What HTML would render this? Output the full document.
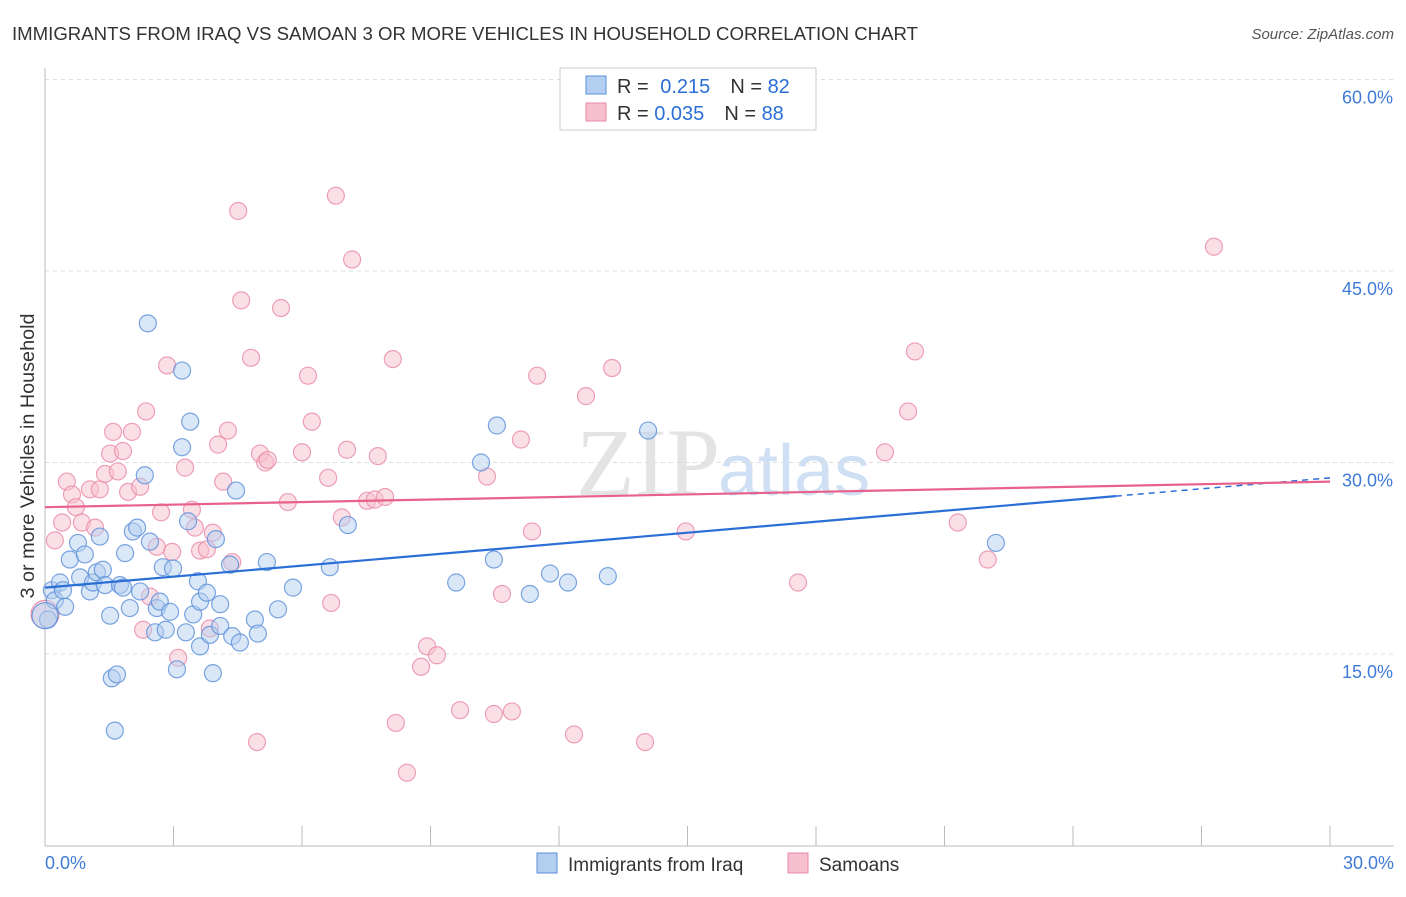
<!DOCTYPE html>
<html><head><meta charset="utf-8"><style>
body{margin:0;background:#fff;font-family:"Liberation Sans",sans-serif}
</style></head><body>
<svg id="chart" width="1406" height="892" xmlns="http://www.w3.org/2000/svg">
<text x="12" y="40" font-size="18" fill="#333" textLength="906" lengthAdjust="spacingAndGlyphs">IMMIGRANTS FROM IRAQ VS SAMOAN 3 OR MORE VEHICLES IN HOUSEHOLD CORRELATION CHART</text>
<text x="1394" y="39" font-size="15" fill="#555" font-style="italic" text-anchor="end">Source: ZipAtlas.com</text>
<text x="-456" y="34" font-size="19" fill="#333" transform="rotate(-90)" text-anchor="middle" textLength="285" lengthAdjust="spacingAndGlyphs">3 or more Vehicles in Household</text>
<text x="720" y="495" font-size="96" fill="#e4e4e4" font-family="Liberation Serif,serif" text-anchor="end">ZIP</text>
<text x="718" y="495" font-size="72" fill="#cfe0f4">atlas</text>
<g id="grid"></g><g id="axes"></g><g id="pink"></g><g id="blue"></g><g id="trends"></g>
<g>
<rect x="560" y="68" width="256" height="62" fill="#fff" stroke="#ccc"/>
<rect x="586" y="76" width="20" height="18" fill="#b3cff0" stroke="#5b8fd9"/>
<rect x="586" y="103" width="20" height="18" fill="#f7bfd0" stroke="#e889a6"/>
<text x="617" y="93" font-size="20" fill="#333">R = <tspan fill="#2b6fd6" dx="6">0.215</tspan><tspan fill="#333" dx="20">N = </tspan><tspan fill="#2b6fd6">82</tspan></text>
<text x="617" y="120" font-size="20" fill="#333">R = <tspan fill="#2b6fd6">0.035</tspan><tspan fill="#333" dx="20">N = </tspan><tspan fill="#2b6fd6">88</tspan></text>
</g>
<g>
<rect x="537" y="853" width="20" height="20" fill="#b3cff0" stroke="#5b8fd9"/>
<text x="568" y="871" font-size="19" fill="#333">Immigrants from Iraq</text>
<rect x="788" y="853" width="20" height="20" fill="#f7bfd0" stroke="#e889a6"/>
<text x="819" y="871" font-size="19" fill="#333">Samoans</text>
</g>
</svg>
<script>
const yTicks=[15,30,45,60];
const yTickLabels=["15.0%","30.0%","45.0%","60.0%"];
const xTickLabels=["0.0%","30.0%"];
const blueX=[0.16,0.23,0.07,0.35,0.47,0.42,0.58,0.77,0.82,0.93,1.05,1.12,1.21,1.28,1.35,1.40,1.52,1.56,1.68,1.63,1.75,1.82,1.87,1.98,2.05,2.15,2.22,2.33,2.40,2.45,2.57,2.61,2.68,2.75,2.82,2.92,2.99,3.08,3.20,3.20,3.29,3.34,3.39,3.46,3.57,3.62,3.62,3.78,3.85,3.92,3.99,4.09,4.09,4.32,4.37,4.46,4.55,4.90,4.97,5.18,5.44,5.79,6.65,7.07,9.60,10.18,10.48,10.55,11.32,11.79,12.21,13.14,14.08,22.20];
const blueY=[20.0,19.2,17.7,20.6,18.7,20.0,22.4,23.7,21.0,22.8,19.9,20.6,21.4,24.2,21.6,20.4,18.0,13.1,13.4,9.0,20.4,20.2,22.9,18.6,24.6,24.9,19.9,29.0,40.9,23.8,16.7,18.6,19.1,21.8,16.9,18.3,21.7,13.8,37.2,31.2,16.7,25.4,33.2,18.1,20.7,19.1,15.6,19.8,16.5,13.5,24.0,18.9,17.2,22.0,16.4,27.8,15.9,17.7,16.6,22.2,18.5,20.2,21.8,25.1,20.6,30.0,22.4,32.9,19.7,21.3,20.6,21.1,32.5,23.7];
const pinkX=[0.23,0.40,0.51,0.63,0.72,0.86,1.05,1.17,1.28,1.40,1.52,1.59,1.70,1.82,1.94,2.03,2.22,2.36,2.29,2.45,2.61,2.71,2.85,2.97,3.11,3.27,3.43,3.50,3.62,3.78,3.85,3.92,4.04,4.16,4.27,4.37,4.51,4.58,4.81,4.95,5.02,5.14,5.20,5.51,5.67,6.00,6.14,6.23,6.61,6.68,6.79,6.93,7.05,7.17,7.52,7.70,7.77,7.94,8.12,8.19,8.45,8.78,8.92,9.15,9.69,10.32,10.48,10.67,10.90,11.11,11.37,11.49,12.35,12.63,13.24,14.01,14.96,17.58,19.61,20.15,20.31,21.31,22.01,27.29];
const pinkY=[23.9,25.3,28.5,27.5,26.5,25.3,27.9,24.9,27.9,29.1,30.7,32.4,29.3,30.9,27.7,32.4,28.1,34.0,16.9,19.5,23.4,26.1,37.6,23.0,14.7,29.6,26.3,24.9,23.1,23.2,17.0,24.5,31.4,28.5,32.5,22.2,49.7,42.7,38.2,8.1,30.7,30.0,30.2,42.1,26.9,30.8,36.8,33.2,28.8,19.0,50.9,25.7,31.0,45.9,27.0,27.1,30.5,27.3,38.1,9.6,5.7,14.0,15.6,14.9,10.6,28.9,10.3,19.7,10.5,31.8,24.6,36.8,8.7,35.2,37.4,8.1,24.6,20.6,30.8,34.0,38.7,25.3,22.4,46.9];
const blueTrend=[20.2,28.8];
const pinkTrend=[26.5,28.5];
const NS="http://www.w3.org/2000/svg";
const sx=v=>45+v/30*1285;
const sy=v=>845.5-v/15*191.5;
function mk(tag,attrs,parent){const e=document.createElementNS(NS,tag);for(const k in attrs)e.setAttribute(k,attrs[k]);parent.appendChild(e);return e;}
const grid=document.getElementById('grid'),axes=document.getElementById('axes');
yTicks.forEach((t,i)=>{
 const l=mk('line',{x1:45,x2:1394,y1:sy(t),y2:sy(t),stroke:'#ddd','stroke-dasharray':'4,4'},grid);
 
 
 const tx=mk('text',{x:1393,y:sy(t)+24,'font-size':18,fill:'#3f7bd6','text-anchor':'end'},axes);
 tx.textContent=yTickLabels[i];
 
 
});
const ax=mk('line',{x1:45,x2:45,y1:68,y2:846,stroke:'#bbb'},axes);


const bx=mk('line',{x1:45,x2:1394,y1:846,y2:846,stroke:'#bbb'},axes);


for(let i=0;i<=10;i++){const t=mk('line',{x1:sx(i*3),x2:sx(i*3),y1:826,y2:846,stroke:'#bbb'},axes);
 
 }
const xl0=mk('text',{x:45,y:869,'font-size':18,fill:'#3f7bd6'},axes);xl0.textContent=xTickLabels[0];


const xl1=mk('text',{x:1394,y:869,'font-size':18,fill:'#3f7bd6','text-anchor':'end'},axes);xl1.textContent=xTickLabels[1];


function pts(xs,ys,g,fill,stroke,name){xs.forEach((x,i)=>{const c=mk('circle',{cx:sx(x),cy:sy(ys[i]),r:8.5,fill:fill,'fill-opacity':0.5,stroke:stroke,'stroke-opacity':0.8,'stroke-width':1.2},g);
 
 });}
pts(pinkX,pinkY,document.getElementById('pink'),'#f7bfd0','#e889a6','samoan-point');
pts(blueX,blueY,document.getElementById('blue'),'#b3cff0','#5b8fd9','iraq-point');
const big1=mk('circle',{cx:sx(0),cy:sy(18.1),r:14,fill:'#f7bfd0','fill-opacity':0.5,stroke:'#e889a6'},document.getElementById('pink'));


const big2=mk('circle',{cx:sx(0),cy:sy(18.0),r:13,fill:'#b3cff0','fill-opacity':0.5,stroke:'#5b8fd9'},document.getElementById('blue'));


const tr=document.getElementById('trends');
const by=x=>blueTrend[0]+(blueTrend[1]-blueTrend[0])*x/30;
const t1=mk('line',{x1:sx(0),y1:sy(by(0)),x2:sx(25),y2:sy(by(25)),stroke:'#2b6fd6','stroke-width':2.2},tr);


const t2=mk('line',{x1:sx(25),y1:sy(by(25)),x2:sx(30),y2:sy(by(30)),stroke:'#2b6fd6','stroke-width':1.5,'stroke-dasharray':'6,5'},tr);


const t3=mk('line',{x1:sx(0),y1:sy(pinkTrend[0]),x2:sx(30),y2:sy(pinkTrend[1]),stroke:'#e8608c','stroke-width':2.2},tr);


</script>
</body></html>
